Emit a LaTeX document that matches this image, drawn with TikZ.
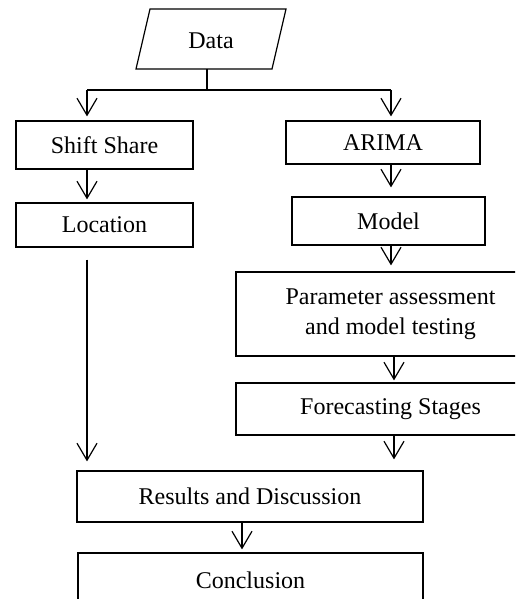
\documentclass[tikz,border=0pt]{standalone}
\usepackage{fontspec}
\setmainfont{Liberation Serif}
\usetikzlibrary{arrows.meta}
\begin{document}
\begin{tikzpicture}[x=0.5pt,y=-0.5pt,
  box/.style={draw, line width=0.6pt, inner sep=0pt, align=center, font=\fontsize{12}{15}\selectfont},
  txt/.style={inner sep=0pt, align=center, font=\fontsize{12}{15}\selectfont},
  arr/.style={-{Straight Barb[length=8.5pt,width=10pt,line width=0.6pt]}, line width=0.6pt},
  ln/.style={line width=0.6pt}]
\clip (0,0) rectangle (515,599);
% data parallelogram
\draw[ln, line join=miter] (150,9) -- (286,9) -- (272,69) -- (136,69) -- cycle;
\node[txt] (data) at (211,41) {Data};
\coordinate (databot) at (207,69);
% boxes
\node[box, minimum width=88.5pt, minimum height=24pt] (shift) at (104.5,145) {Shift Share};
\node[box, minimum width=88.5pt, minimum height=22pt] (loc) at (104.5,225) {Location};
\node[box, minimum width=97pt, minimum height=21.5pt] (arima) at (383,142.5) {ARIMA};
\node[box, minimum width=96.5pt, minimum height=24pt] (model) at (388.5,221) {Model};
\node[box, minimum width=154.5pt, minimum height=42pt] (param) at (390.5,314) {Parameter assessment\\and model testing};
\node[box, minimum width=154.5pt, minimum height=26pt] (fore) at (390.5,409) {Forecasting Stages};
\node[box, minimum width=173pt, minimum height=25.5pt] (res) at (250,496.5) {Results and Discussion};
\node[box, minimum width=172.5pt, minimum height=27pt] (concl) at (250.5,580) {Conclusion};
% helper coordinates
\coordinate (split) at (207,90);
\coordinate (splitL) at (87,90);
\coordinate (splitR) at (391,90);
\coordinate (xA) at (394,0);
\coordinate (xB) at (242,0);
% connectors
\draw[ln] (databot) -- (split);
\draw[ln] (splitL) -- (splitR);
\draw[arr, shorten >=2pt] (splitL) -- (shift.north -| splitL);
\draw[arr, shorten >=2pt] (splitR) -- (arima.north -| splitR);
\draw[arr, shorten >=1.5pt] (shift.south -| splitL) -- (loc.north -| splitL);
\draw[arr, shorten >=4.5pt] (arima.south -| splitR) -- (model.north -| splitR);
\draw[arr, shorten >=3pt] (model.south -| splitR) -- (param.north -| splitR);
\draw[arr, shorten >=1pt] (param.south -| xA) -- (fore.north -| xA);
\draw[arr, shorten <=6pt, shorten >=4.5pt] (loc.south -| splitL) -- (res.north -| splitL);
\draw[arr, shorten >=5.5pt] (fore.south -| xA) -- (res.north -| xA);
\draw[arr, shorten >=1.5pt] (res.south -| xB) -- (concl.north -| xB);
\end{tikzpicture}
\end{document}
